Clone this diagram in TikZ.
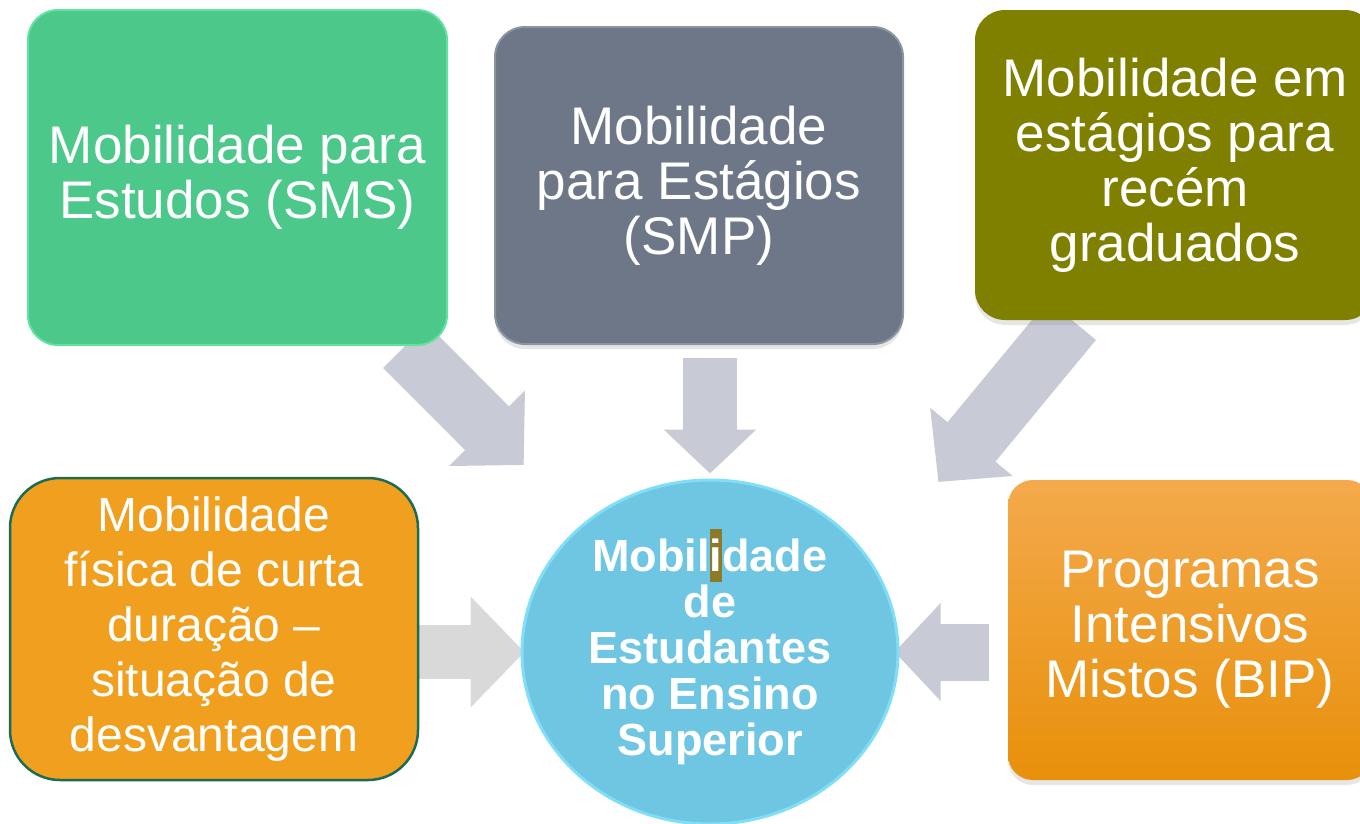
\documentclass[tikz,border=0pt]{standalone}
\usepackage{fontspec}
\setmainfont{Liberation Sans}
\usepackage{xcolor}
\usepackage{tikz}
\usetikzlibrary{shapes.geometric}
\usetikzlibrary{arrows.meta}
\usetikzlibrary{backgrounds}
\usetikzlibrary{shadows}
\definecolor{smsgreen}{RGB}{76,200,138}
\definecolor{smsrim}{RGB}{96,226,160}
\definecolor{smpgray}{RGB}{110,119,135}
\definecolor{smprim}{RGB}{140,148,162}
\definecolor{recemolive}{RGB}{128,128,0}
\definecolor{curtaorange}{RGB}{240,160,30}
\definecolor{curtarim}{RGB}{26,108,84}
\definecolor{biptop}{RGB}{244,170,76}
\definecolor{bipbot}{RGB}{232,144,10}
\definecolor{centreblue}{RGB}{111,198,226}
\definecolor{centrerim}{RGB}{128,222,246}
\definecolor{arrowgray}{RGB}{200,202,214}
\definecolor{arrowlight}{RGB}{217,217,217}
\definecolor{selbrown}{RGB}{140,122,40}
\newlength{\selw}
\newcommand{\selhl}[1]{\settowidth{\selw}{#1}\smash{\rlap{\color{selbrown}\rule[-10pt]{\selw}{53pt}}}#1}

\begin{document}
\begin{tikzpicture}[x=1pt,y=-1pt,
  box/.style={rounded corners=30pt, text=white, align=center, inner sep=0pt,
    font=\fontsize{53}{55}\selectfont},
  softshade/.style={drop shadow={opacity=0.2, shadow xshift=0pt, shadow yshift=-5pt}},
  fatarrow/.style={draw=arrowgray, line width=62pt, -{Triangle[width=104pt,length=52pt]}}]
\useasboundingbox (0,0) rectangle (1360,823);
\node (sms) [box, fill=smsgreen, draw=smsrim, line width=2pt, minimum width=419pt, minimum height=335pt] at (237.5,177.5) {Mobilidade para\\Estudos (SMS)};
\node (smp) [box, softshade, fill=smpgray, draw=smprim, line width=2pt, minimum width=408pt, minimum height=317pt] at (699,185.5) {Mobilidade\\para Estágios\\(SMP)};
\node (recem) [box, softshade, fill=recemolive, minimum width=400pt, minimum height=310pt] at (1175,165) {Mobilidade em\\estágios para\\recém\\graduados};
\node (curta) [box, rounded corners=50pt, fill=curtaorange, draw=curtarim, line width=2.5pt, minimum width=408pt, minimum height=302pt, font=\fontsize{48}{55}\selectfont] at (214,629) {Mobilidade\\física de curta\\duração –\\situação de\\desvantagem};
\node (bip) [box, softshade, rounded corners=25pt, top color=biptop, bottom color=bipbot, minimum width=364pt, minimum height=300pt] at (1190,630) {Programas\\Intensivos\\Mistos (BIP)};
\node (centre) [ellipse, fill=centreblue, draw=centrerim, line width=3pt, minimum width=376pt, minimum height=344pt, inner sep=0pt, text=white, align=center, font=\fontsize{45}{46}\selectfont\bfseries] at (710,652) {Mobil\selhl{i}dade\\de\\Estudantes\\no Ensino\\Superior};
\begin{pgfonlayer}{background}
\draw[fatarrow, shorten >=83pt] (sms) -- (centre);
\draw[fatarrow, line width=54pt, -{Triangle[width=90pt,length=44pt]}, shorten <=13pt, shorten >=5pt] (smp.south -| centre.north) -- (centre.north);
\draw[fatarrow, shorten >=104pt] ([xshift=-103pt]recem.south) -- (centre.29);
\draw[fatarrow, draw=arrowlight, line width=54pt, -{Triangle[width=108pt,length=54pt]}, shorten >=-4pt] (curta.east |- centre.west) -- (centre.west);
\draw[fatarrow, line width=57pt, -{Triangle[width=95pt,length=46pt]}, shorten <=19pt, shorten >=-5pt] (bip.west |- centre.east) -- (centre.east);
\end{pgfonlayer}
\end{tikzpicture}
\end{document}
